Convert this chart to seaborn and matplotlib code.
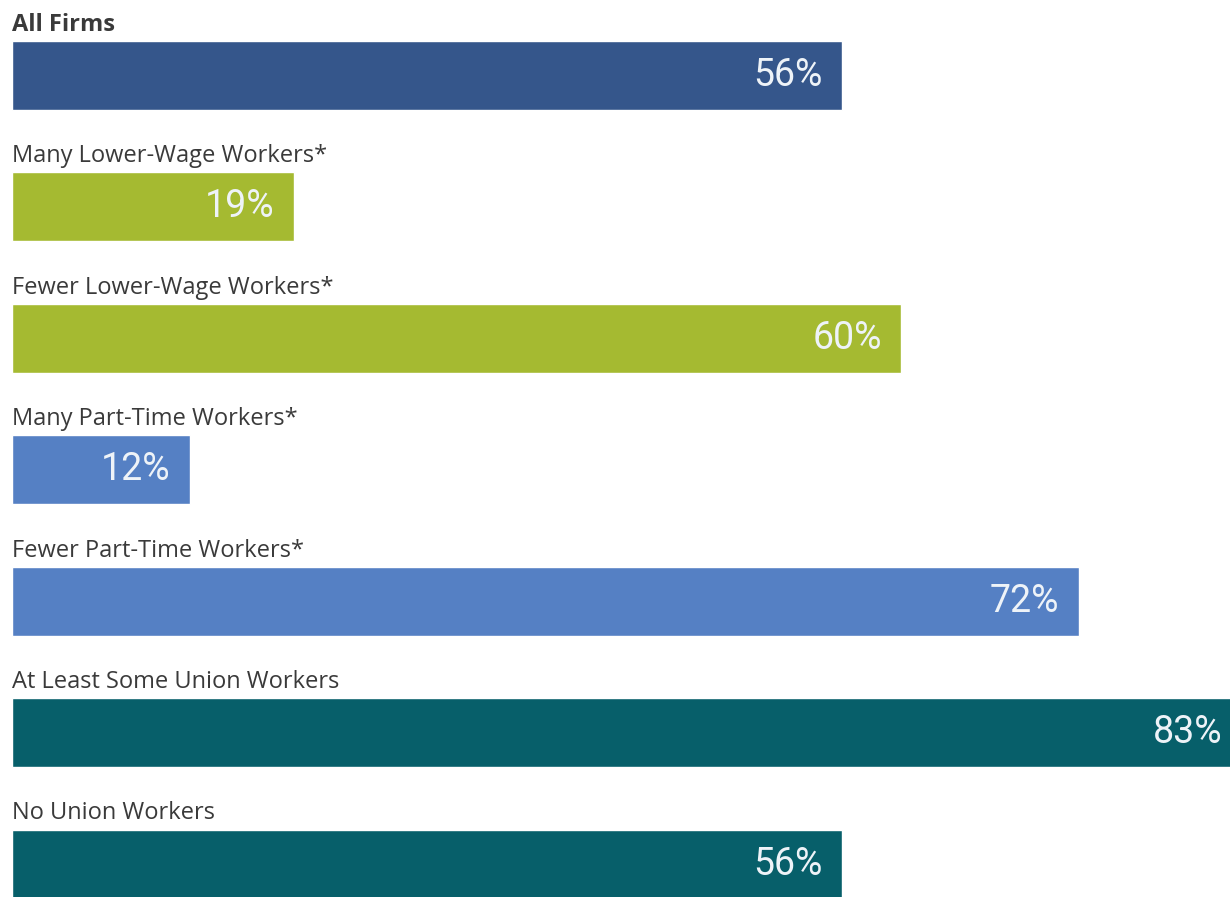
import matplotlib
matplotlib.use("Agg")
import matplotlib.pyplot as plt
import seaborn as sns
import pandas as pd

categories = ["All Firms", "Many Lower-Wage Workers*", "Fewer Lower-Wage Workers*",
              "Many Part-Time Workers*", "Fewer Part-Time Workers*",
              "At Least Some Union Workers", "No Union Workers"]
values = [56, 19, 60, 12, 72, 83, 56]
value_labels = ["56%", "19%", "60%", "12%", "72%", "83%", "56%"]
colors = ["#35568b", "#a5ba31", "#a5ba31", "#5580c4", "#5580c4", "#075f6a", "#075f6a"]

df = pd.DataFrame({"category": categories, "value": values})

sns.set_theme(style="white")
fig = plt.figure(figsize=(12.30, 8.97), dpi=100)
ax = fig.add_axes([12/1230, 0, 1.0, 1.0])

sns.barplot(data=df, x="value", y="category", hue="category", palette=colors,
            orient="h", width=0.525, legend=False, saturation=1, ax=ax)

ax.set_xlim(0, 83)
ax.set_ylim(6.251, -0.575)
ax.axis("off")

for i, (cat, v, lab) in enumerate(zip(categories, values, value_labels)):
    ax.text(0.0, i - 0.385, cat, ha="left", va="center",
            fontsize=17, color="#3a3a3a", family="Open Sans",
            fontweight="bold" if i == 0 else "normal")
    ax.annotate(lab, xy=(v, i), xytext=(-14, 0), textcoords="offset points",
                ha="right", va="center", fontsize=27, color="#eef3f8",
                family="Roboto", fontweight="normal")

fig.savefig("out.png", dpi=100)
